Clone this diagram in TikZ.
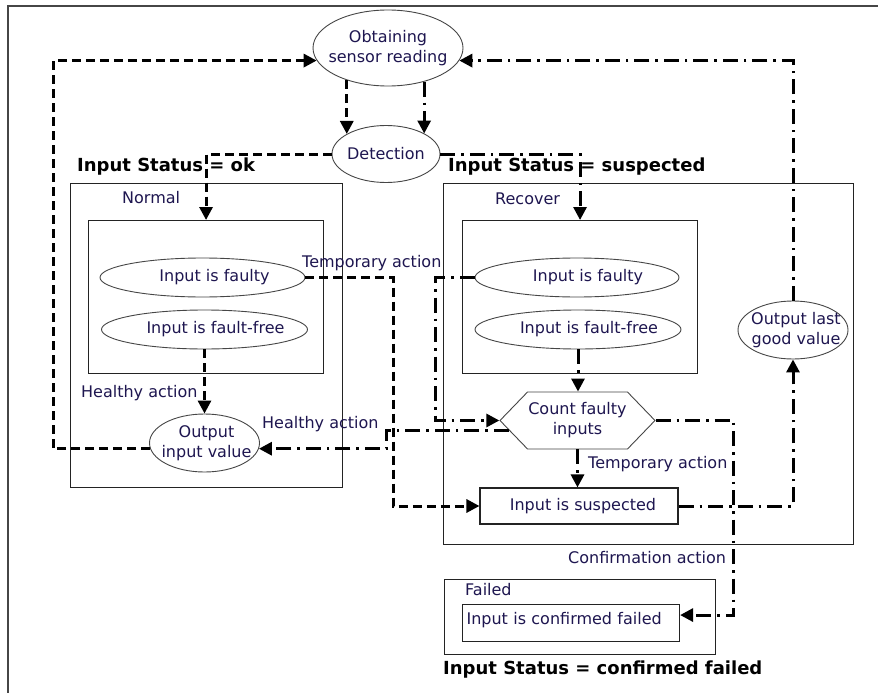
\documentclass[tikz,border=0pt]{standalone}
\usepackage{fontspec}
\setmainfont{DejaVu Sans}
\usetikzlibrary{arrows.meta,shapes.geometric,shapes.symbols}

\definecolor{ink}{RGB}{30,22,80}
\definecolor{rim}{RGB}{70,70,70}
\definecolor{edge}{RGB}{35,35,35}

\begin{document}
\begin{tikzpicture}[x=1pt,y=-1pt,
  every node/.style={font=\fontsize{16}{20}\selectfont, text=ink},
  lbl/.style={inner sep=0pt, anchor=west},
  status/.style={inner sep=0pt, anchor=west, text=black,
    font=\fontsize{18}{22}\selectfont\bfseries},
  oval/.style={ellipse, draw=rim, line width=0.9pt, inner sep=0pt},
  statebox/.style={draw=edge, line width=1.1pt, inner sep=0pt, anchor=north west},
  tip/.style={-{Triangle[length=13pt,width=13pt]}},
  dashflow/.style={tip, line width=3pt, dash pattern=on 9pt off 5pt},
  dotflow/.style={tip, line width=3pt, dash pattern=on 15pt off 6pt on 2.5pt off 6pt},
  line join=miter
]
\fill[white] (0,0) rectangle (878,693);
\useasboundingbox (0,0) rectangle (878,693);

% page frame
\draw[rim, line width=1.2pt] (8,693) -- (8,6) -- (878,6);

% --- sensing ---
\node[oval, minimum width=150pt, minimum height=76pt,
  label={[align=center, inner sep=0pt]center:Obtaining\\sensor reading}] (obtain) at (388,48) {};
\node[oval, minimum width=108pt, minimum height=57pt,
  label={[inner sep=0pt]center:Detection}] (detect) at (386,154) {};

% --- state: ok ---
\node[status] (okstat) at (77,167) {Input Status = ok};
\node[statebox, minimum width=272pt, minimum height=304pt] (normal) at (70,183) {};
\node[lbl] (normaltitle) at (122,198) {Normal};
\node[statebox, minimum width=235pt, minimum height=153pt] (ninner) at (88,220) {};
\node[oval, minimum width=205pt, minimum height=39pt,
  label={[inner sep=0pt, xshift=12pt]center:Input is faulty}] (lfaulty) at (202.5,277.5) {};
\node[oval, minimum width=206pt, minimum height=39pt,
  label={[inner sep=0pt, xshift=11pt]center:Input is fault-free}] (lfree) at (204.5,329.5) {};
\node[oval, minimum width=110pt, minimum height=58pt,
  label={[align=center, inner sep=0pt, xshift=2pt]center:Output\\input value}] (outval) at (204.5,443) {};
\node[lbl] (hlthleft) at (81,393) {Healthy action};

% --- state: suspected ---
\node[status] (susstat) at (448,167) {Input Status = suspected};
\node[statebox, minimum width=410pt, minimum height=361pt] (recover) at (443,183) {};
\node[lbl] (recovertitle) at (495,199) {Recover};
\node[statebox, minimum width=235pt, minimum height=153pt] (rinner) at (462,220) {};
\node[oval, minimum width=204pt, minimum height=39pt,
  label={[inner sep=0pt, xshift=11pt]center:Input is faulty}] (rfaulty) at (577,277.5) {};
\node[oval, minimum width=206pt, minimum height=39pt,
  label={[inner sep=0pt, xshift=11pt]center:Input is fault-free}] (rfree) at (578,329.5) {};
\node[signal, signal to=west and east, signal pointer angle=92, draw=rim, line width=0.9pt,
  inner sep=0pt, minimum width=155pt, minimum height=57pt,
  label={[align=center, inner sep=0pt]center:Count faulty\\inputs}] (count) at (577.5,420.5) {};
\node[draw=edge, line width=1.1pt, minimum width=198pt, minimum height=36pt, inner sep=0pt]
  (susp) at (579,506) {\hspace*{8pt}Input is suspected};
\node[oval, minimum width=110pt, minimum height=58pt,
  label={[align=center, inner sep=0pt, xshift=3pt]center:Output last\\good value}] (outlast) at (793,330) {};

% --- state: confirmed failed ---
\node[statebox, minimum width=271pt, minimum height=75pt] (failed) at (444,579) {};
\node[lbl] (failedtitle) at (465,590) {Failed};
\node[statebox, minimum width=217pt, minimum height=37pt, text width=209pt, align=left,
  inner sep=4pt, text height=16pt, text depth=13pt] (cfail) at (462,604) {Input is confirmed failed};
\node[status] (failstat) at (443,670) {Input Status = confirmed failed};

% --- action labels ---
\node[lbl] (tmpleft) at (302,263) {Temporary action};
\node[lbl] (hlthright) at (262,424) {Healthy action};
\node[lbl] (tmpright) at (588,464) {Temporary action};
\node[lbl] (confirm) at (568,558) {Confirmation action};

% --- flows ---
\draw[dashflow] (obtain.218) -- (obtain.218 |- detect.153);
\draw[dotflow] (obtain.317) -- (obtain.317 |- detect.28);
\draw[dashflow] (detect.west) -| (ninner.north);
\draw[dotflow] (detect.east) -| (rinner.north);

\draw[dashflow] (lfree.south) -- (lfree.south |- outval.north);
\draw[dashflow] (outval.186) -- ++(-97,0) |- (obtain.190);
\draw[dashflow] (lfaulty.east) -- ++(88,0) |- (susp.west);

\draw[dotflow] (rfaulty.west) -- ++(-39,0) |- (count.west);
\draw[dotflow] (rfree.south) -- (rfree.south |- count.north);
\draw[dotflow] (count.south) -- (count.south |- susp.north);
\draw[dotflow] (count.188) -- ++(-122,0) |- (outval.-6);
\draw[dotflow] (count.east) -- ++(78,0) |- ([yshift=8pt]cfail.east);
\draw[dotflow] (susp.east) -| (outlast.south);
\draw[dotflow] (outlast.north) |- (obtain.-10);
\end{tikzpicture}
\end{document}
